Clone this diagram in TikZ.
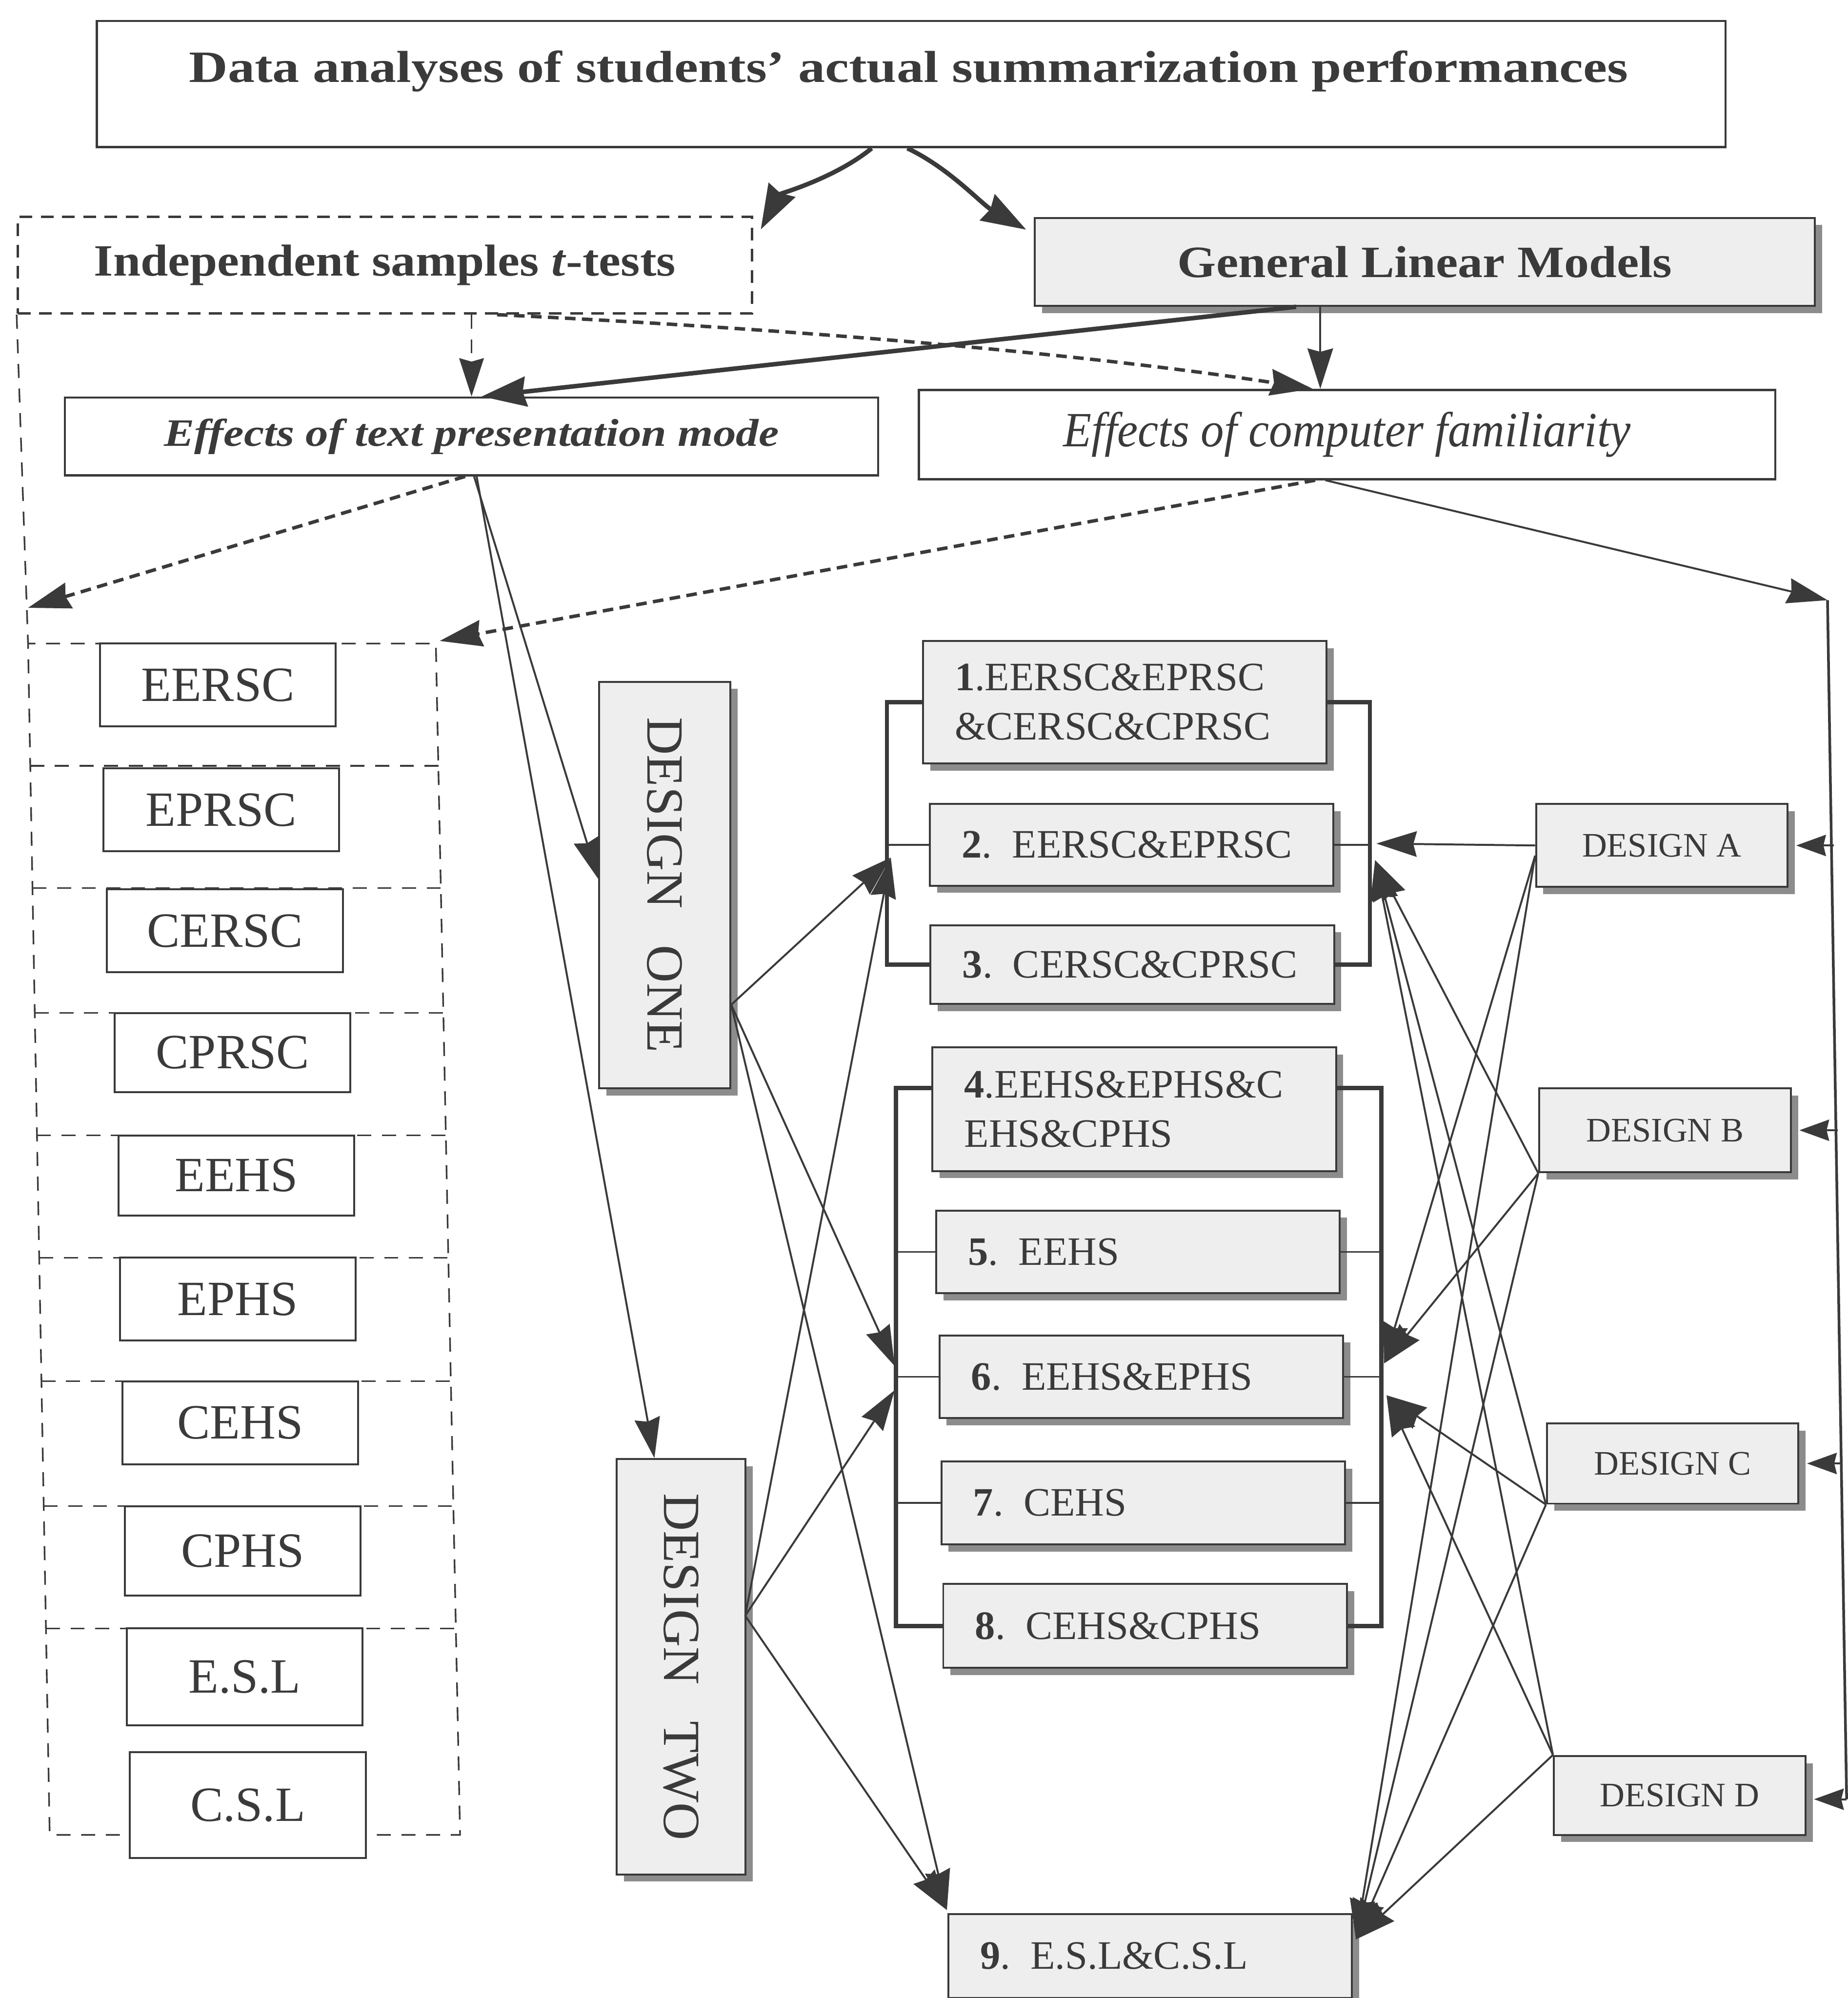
\documentclass[tikz,border=0pt]{standalone}
\usepackage{fontspec}
\setmainfont{Liberation Serif}
\usepackage{graphicx}
\usetikzlibrary{arrows.meta,shadows,calc}
\definecolor{ink}{HTML}{3A3A3A}
\definecolor{boxgray}{HTML}{EEEEEE}
\definecolor{shade}{HTML}{8C8C8C}
\begin{document}
\begin{tikzpicture}[x=0.03cm,y=-0.03cm,
  every node/.style={text=ink},
  plainbox/.style={draw=ink, line width=1.5pt, fill=white, inner sep=0pt},
  graybox/.style={draw=ink, line width=1.3pt, fill=boxgray, inner sep=0pt,
     drop shadow={shadow xshift=0.17cm, shadow yshift=-0.17cm, fill=shade, opacity=1}},
  listbox/.style={draw=ink, line width=1.3pt, fill=white, inner sep=0pt, minimum width=5.55cm, font=\fontsize{33}{40}\selectfont},
  midbox/.style={graybox, minimum width=9.5cm, text width=8.0cm, align=left, inner xsep=0.75cm, font=\fontsize{27}{33}\selectfont},
  desbox/.style={graybox, minimum width=5.92cm, font=\fontsize{23}{28}\selectfont},
  vdesbox/.style={graybox, font=\fontsize{35}{40}\selectfont},
  dashbox/.style={draw=ink, line width=1.1pt, dash pattern=on 0.33cm off 0.25cm},
  conn/.style={draw=ink, line width=1.3pt, -{Stealth[length=0.95cm,width=0.6cm,inset=0.08cm]}},
  shortconn/.style={draw=ink, line width=1.3pt, -{Stealth[length=0.7cm,width=0.5cm,inset=0.06cm]}},
  thickconn/.style={draw=ink, line width=3pt, -{Stealth[length=1.05cm,width=0.7cm,inset=0.08cm]}},
  dconn/.style={draw=ink, line width=2.3pt, dash pattern=on 0.25cm off 0.15cm, -{Stealth[length=1.0cm,width=0.62cm,inset=0.08cm]}},
  thinbar/.style={draw=ink, line width=1.2pt},
  thickbar/.style={draw=ink, line width=2.8pt},
]
\useasboundingbox (0,0) rectangle (1450,1568);

% ---------------- top level ----------------
\node[plainbox, minimum width=38.34cm, minimum height=2.97cm] (title) at (715,66) {};
\node[font=\fontsize{30}{36}\selectfont\bfseries] (titletext) at (713,56) {\scalebox{1.2}[1]{Data analyses of students' actual summarization performances}};

\node[draw=ink, line width=1.6pt, dash pattern=on 0.3cm off 0.2cm, fill=none, inner sep=0pt,
      minimum width=17.28cm, minimum height=2.28cm, font=\fontsize{30}{36}\selectfont\bfseries]
      (ttest) at (302,208) {\scalebox{1.1}[1]{Independent samples \textit{t}-tests}};

\node[graybox, minimum width=18.36cm, minimum height=2.07cm, font=\fontsize{30}{36}\selectfont\bfseries]
      (glm) at (1118,205.5) {\scalebox{1.11}[1]{General Linear Models}};

\node[plainbox, minimum width=19.14cm, minimum height=1.83cm, font=\fontsize{26}{32}\selectfont\bfseries\itshape]
      (efftext) at (370,342.5) {\scalebox{1.17}[1]{Effects of text presentation mode}};
\node[plainbox, minimum width=20.16cm, minimum height=2.1cm, font=\fontsize{33}{38}\selectfont\itshape]
      (effcomp) at (1057,341) {\scalebox{0.94}[1]{Effects of computer familiarity}};

% ---------------- left dashed list ----------------
\draw[dashbox] (ttest.south west) -- (22,505) -- (39,1440) -- (361,1440) -- (342,505) -- (22,505);
\draw[dashbox] (23.7,601) -- (344,601);
\draw[dashbox] (25.5,697) -- (346,697);
\draw[dashbox] (27.3,795) -- (348,795);
\draw[dashbox] (29,891) -- (350,891);
\draw[dashbox] (30.8,987) -- (352,987);
\draw[dashbox] (32.5,1084) -- (354,1084);
\draw[dashbox] (34.3,1182) -- (356,1182);
\draw[dashbox] (36,1278) -- (358,1278);

\node[listbox, minimum height=1.95cm] (l1) at (171,537.5) {EERSC};
\node[listbox, minimum height=1.95cm] (l2) at (173.5,635.5) {EPRSC};
\node[listbox, minimum height=1.95cm] (l3) at (176.5,730.5) {CERSC};
\node[listbox, minimum height=1.86cm] (l4) at (182.5,826) {CPRSC};
\node[listbox, minimum height=1.89cm] (l5) at (185.5,922.5) {EEHS};
\node[listbox, minimum height=1.95cm] (l6) at (186.5,1019.5) {EPHS};
\node[listbox, minimum height=1.95cm] (l7) at (188.5,1116.5) {CEHS};
\node[listbox, minimum height=2.1cm] (l8) at (190.5,1217) {CPHS};
\node[listbox, minimum height=2.28cm] (l9) at (192,1316) {E.S.L};
\node[listbox, minimum height=2.49cm] (l10) at (194.5,1416.5) {C.S.L};

\coordinate (listL) at (22,477);
\coordinate (listR) at (345,503);

% ---------------- design one / two ----------------
\node[vdesbox, minimum width=3.09cm, minimum height=9.57cm] (d1) at (521.5,694.5) {\rotatebox{-90}{DESIGN\hspace{0.7em}ONE}};
\node[vdesbox, minimum width=3.03cm, minimum height=9.78cm] (d2) at (534.5,1308) {\rotatebox{-90}{DESIGN\hspace{0.7em}TWO}};

% ---------------- middle boxes ----------------
\node[midbox, minimum height=2.88cm] (m1) at (882.5,551) {\textbf{1}.EERSC\&EPRSC\\\&CERSC\&CPRSC};
\node[midbox, minimum height=1.92cm] (m2) at (888,663) {\textbf{2}. EERSC\&EPRSC};
\node[midbox, minimum height=1.86cm] (m3) at (888.5,757) {\textbf{3}. CERSC\&CPRSC};
\node[midbox, minimum height=2.91cm] (m4) at (890,870.5) {\textbf{4}.EEHS\&EPHS\&C\\EHS\&CPHS};
\node[midbox, minimum height=1.95cm] (m5) at (893,982.5) {\textbf{5}. EEHS};
\node[midbox, minimum height=1.95cm] (m6) at (895.5,1080.5) {\textbf{6}. EEHS\&EPHS};
\node[midbox, minimum height=1.95cm] (m7) at (897,1179.5) {\textbf{7}. CEHS};
\node[midbox, minimum height=1.98cm] (m8) at (898.5,1276) {\textbf{8}. CEHS\&CPHS};
\node[midbox, minimum height=1.98cm] (m9) at (902.5,1535) {\textbf{9}. E.S.L\&C.S.L};

% ---------------- designs A-D ----------------
\node[desbox, minimum height=1.95cm] (dA) at (1304,663.5) {DESIGN A};
\node[desbox, minimum height=1.98cm] (dB) at (1306.5,887) {DESIGN B};
\node[desbox, minimum height=1.89cm] (dC) at (1312.5,1148.5) {DESIGN C};
\node[desbox, minimum height=1.86cm] (dD) at (1318,1409) {DESIGN D};

% ---------------- brackets ----------------
\coordinate (bL1) at (696,0);
\coordinate (bR1) at (1075,0);
\coordinate (bL2) at (703,0);
\coordinate (bR2) at (1084,0);
\draw[thickbar] (m1.west) -- (m1.west -| bL1) -- (m3.west -| bL1) -- (m3.west);
\draw[thickbar] (m1.east) -- (m1.east -| bR1) -- (m3.east -| bR1) -- (m3.east);
\draw[thinbar] (m2.west) -- (m2.west -| bL1);
\draw[thinbar] (m2.east) -- (m2.east -| bR1);
\draw[thickbar] ([yshift=0.5cm]m4.west) -- ([yshift=0.5cm]m4.west -| bL2) -- (m8.west -| bL2) -- (m8.west);
\draw[thickbar] ([yshift=0.5cm]m4.east) -- ([yshift=0.5cm]m4.east -| bR2) -- (m8.east -| bR2) -- (m8.east);
\foreach \m in {m5,m6,m7}{
  \draw[thinbar] (\m.west) -- (\m.west -| bL2);
  \draw[thinbar] (\m.east) -- (\m.east -| bR2);
}

% arrow targets on brackets
\coordinate (t2L) at (699,673);
\coordinate (t6Lu) at (702,1072);
\coordinate (t6Ld) at (702,1091);
\coordinate (t9L) at (743,1499);
\coordinate (t2Ra) at (1080,662);
\coordinate (t2Rb) at (1079,675);
\coordinate (t6Ru) at (1086,1070);
\coordinate (t6Rd) at (1088,1095);
\coordinate (t9R) at (1064,1522);

% ---------------- top connectors ----------------
\draw[thickconn] ($(title.south)+(-31,0)$) .. controls (655,140) and (612,152) .. ($(ttest.north east)+(6,11)$);
\draw[thickconn] ($(title.south)+(-3,0)$) .. controls (745,132) and (770,160) .. ($(glm.north west)+(-6,10)$);
\draw[dashbox, -{Stealth[length=0.9cm,width=0.58cm,inset=0.08cm]}] ($(ttest.south)+(68,0)$) -- (efftext.north);
\draw[dconn] ($(ttest.south)+(88,0)$) .. controls (700,262) and (900,285) .. ($(effcomp.north)+(-27,0)$);
\draw[thickconn] ($(glm.south)+(-101,0)$) -- ($(efftext.north)+(8,0)$);
\draw[conn] ($(glm.south)+(-82,0)$) -- ($(effcomp.north)+(-21,0)$);

\draw[dconn] ($(efftext.south)+(-5,0)$) -- (listL);
\draw[conn] ($(efftext.south)+(2,0)$) -- ($(d1.west)+(0,-5)$);
\draw[conn] ($(efftext.south)+(4,0)$) -- ($(d2.north)+(-21,0)$);
\draw[dconn] ($(effcomp.south)+(-25,0)$) -- (listR);

% right rail
\coordinate (railtop) at (1434,471);
\coordinate (railbot) at (1449,1412);
\coordinate (railA) at (1439,663.5);
\coordinate (railB) at (1442,887);
\coordinate (railC) at (1446,1148.5);
\draw[conn] ($(effcomp.south)+(-17,0)$) -- (railtop);
\draw[draw=ink, line width=1.8pt] (railtop) -- (railbot);
\draw[shortconn] (railA) -- ($(dA.east)+(6,0)$);
\draw[shortconn] (railB) -- ($(dB.east)+(6,0)$);
\draw[shortconn] (railC) -- ($(dC.east)+(6,0)$);
\draw[shortconn] (railbot) -- ($(dD.east)+(6,3)$);

% ---------------- design one / two to groups ----------------
\coordinate (d1o) at ($(d1.east)+(0,94)$);
\coordinate (d2o) at ($(d2.east)+(-1,-40)$);
\draw[conn] (d1o) -- (t2L);
\draw[conn] (d1o) -- (t6Lu);
\draw[conn] (d1o) -- (t9L);
\draw[conn] (d2o) -- (t2L);
\draw[conn] (d2o) -- (t6Ld);
\draw[conn] (d2o) -- (t9L);

% ---------------- designs A-D to groups ----------------
\coordinate (dAo) at ($(dA.west)+(0,8)$);
\coordinate (dBo) at (dB.south west);
\coordinate (dCo) at (dC.south west);
\coordinate (dDo) at (dD.north west);
\draw[conn] (dA.west) -- (t2Ra);
\draw[conn] (dAo) -- (t6Ru);
\draw[conn] (dAo) -- (t9R);
\draw[conn] (dBo) -- (t2Rb);
\draw[conn] (dBo) -- (t6Ru);
\draw[conn] (dBo) -- (t9R);
\draw[conn] (dCo) -- (t2Rb);
\draw[conn] (dCo) -- (t6Rd);
\draw[conn] (dCo) -- (t9R);
\draw[conn] (dDo) -- (t2Rb);
\draw[conn] (dDo) -- (t6Rd);
\draw[conn] (dDo) -- (t9R);
\end{tikzpicture}
\end{document}
